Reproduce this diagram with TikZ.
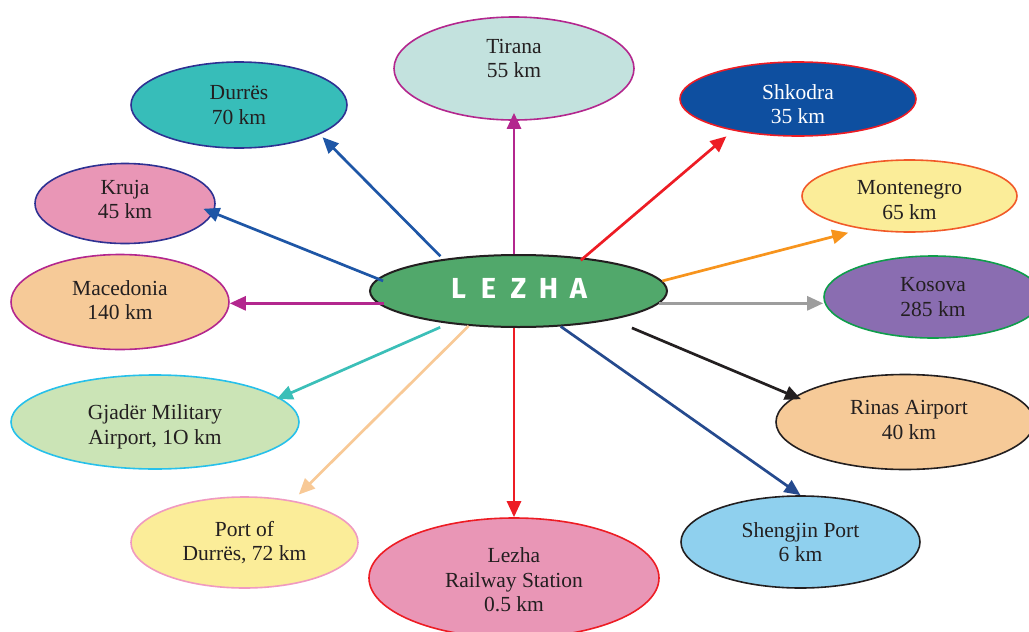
\documentclass[tikz,border=0pt]{standalone}
\usepackage{fontspec}
\setmainfont{Liberation Serif}
\newfontfamily\lezfont{Fira Sans}
\usetikzlibrary{shapes.geometric,arrows.meta}
\definecolor{txt}{HTML}{231F20}
\definecolor{magen}{HTML}{B3278E}
\definecolor{dblue}{HTML}{2E3192}
\definecolor{redc}{HTML}{ED1C24}
\definecolor{fTir}{HTML}{C3E2DE}
\definecolor{fDur}{HTML}{37BDB9}
\definecolor{fShk}{HTML}{0E4FA0}
\definecolor{fYel}{HTML}{FBED99}
\definecolor{bMon}{HTML}{F15A29}
\definecolor{fPink}{HTML}{E996B6}
\definecolor{fPeach}{HTML}{F6CA98}
\definecolor{fKos}{HTML}{8A6DB1}
\definecolor{bKos}{HTML}{0F9D4B}
\definecolor{fGja}{HTML}{CBE4B6}
\definecolor{bGja}{HTML}{27C0EA}
\definecolor{bPor}{HTML}{F09AC0}
\definecolor{fShe}{HTML}{8FD0EE}
\definecolor{fLez}{HTML}{51A86B}
\definecolor{aBlue}{HTML}{1E56A6}
\definecolor{aOrange}{HTML}{F7941D}
\definecolor{aGray}{HTML}{9D9D9D}
\definecolor{aNavy}{HTML}{254A8E}
\definecolor{aPeach}{HTML}{F8C996}
\definecolor{aTeal}{HTML}{3BBFB8}
\tikzset{
  place/.style={ellipse, draw, line width=1.6pt, inner sep=0pt},
  lab/.style={align=center, inner sep=0pt, text=txt,
    font=\fontsize{21.5}{24.5}\selectfont},
  arr/.style={line width=2.7pt, -{Triangle[length=16pt,width=14pt]}}
}
\begin{document}
\begin{tikzpicture}[x=1pt,y=-1pt]
\useasboundingbox (0,0) rectangle (1029,632);
% destination ellipses
\node[place, fill=fTir, draw=magen, minimum width=240pt, minimum height=103pt,
  label={[lab, yshift=10pt]center:{Tirana\\55 km}}] (tir) at (514,68.5) {};
\node[place, fill=fDur, draw=dblue, minimum width=216pt, minimum height=86pt,
  label={[lab]center:{Durrës\\70 km}}] (dur) at (239,105) {};
\node[place, fill=fShk, draw=redc, minimum width=236pt, minimum height=74pt,
  label={[lab, text=white, yshift=-5pt]center:{Shkodra\\35 km}}] (shk) at (798,99) {};
\node[place, fill=fYel, draw=bMon, minimum width=215pt, minimum height=72pt,
  label={[lab, yshift=-4pt]center:{Montenegro\\65 km}}] (mon) at (909.5,196) {};
\node[place, fill=fPink, draw=dblue, minimum width=180pt, minimum height=80pt,
  label={[lab, yshift=4pt]center:{Kruja\\45 km}}] (kru) at (125,203.5) {};
\node[place, fill=fPeach, draw=magen, minimum width=218pt, minimum height=95pt,
  label={[lab, yshift=2pt]center:{Macedonia\\140 km}}] (mac) at (120,302) {};
\node[place, fill=fKos, draw=bKos, minimum width=218pt, minimum height=82pt,
  label={[lab]center:{Kosova\\285 km}}] (kos) at (933,297) {};
\node[place, fill=fGja, draw=bGja, minimum width=288pt, minimum height=94pt,
  label={[lab, yshift=-5pt]center:{Gjadër Military\\Airport, 1O km}}] (gja) at (155,422) {};
\node[place, fill=fPeach, draw=txt, minimum width=258pt, minimum height=95pt,
  label={[lab, xshift=4pt, yshift=2pt]center:{Rinas Airport\\40 km}}] (rin) at (905,422) {};
\node[place, fill=fYel, draw=bPor, minimum width=227pt, minimum height=91pt,
  label={[lab]center:{Port of\\Durrës, 72 km}}] (por) at (244.5,542.5) {};
\node[place, fill=fPink, draw=redc, minimum width=290pt, minimum height=120pt,
  label={[lab, yshift=-2pt]center:{Lezha\\Railway Station\\0.5 km}}] (rail) at (514,578) {};
\node[place, fill=fShe, draw=txt, minimum width=239pt, minimum height=92pt,
  label={[lab]center:{Shengjin Port\\6 km}}] (she) at (800.5,542) {};
% centre
\node[ellipse, draw=txt, line width=2pt, fill=fLez, inner sep=0pt, minimum width=297pt, minimum height=72pt,
  label={[text=white, inner sep=0pt, yshift=2.5pt, font=\lezfont\bfseries\fontsize{29}{32}\selectfont]center:{\makebox[30pt]{L}\makebox[30pt]{E}\makebox[30pt]{Z}\makebox[30pt]{H}\makebox[30pt]{A}}}] (lez) at (518.5,291) {};
% connectors
\draw[arr, color=magen, shorten >=-8pt] (lez.north -| tir.south) -- (tir.south);
\draw[arr, color=aBlue, shorten <=4pt, shorten >=4pt] (lez.157) -- (dur.340.8);
\draw[arr, color=redc, shorten <=-4pt, shorten >=8.8pt] (lez.27.1) -- (shk.206.7);
\draw[arr, color=aOrange, shorten >=14.5pt] (lez.4.5) -- (mon.215);
\draw[arr, color=aGray] (lez.355) -- (lez.355 -| kos.west);
\draw[arr, color=txt, shorten <=21pt, shorten >=-6.8pt] (lez.343.8) -- (rin.167.4);
\draw[arr, color=aNavy] (lez.320.4) -- (she.north);
\draw[arr, color=redc] (lez.south -| rail.north) -- (rail.north);
\draw[arr, color=aPeach, shorten >=8.5pt] (lez.215) -- (por.41.1);
\draw[arr, color=aTeal, shorten <=9pt, shorten >=-3.3pt] (lez.205.8) -- (gja.11.2);
\draw[arr, color=magen, shorten <=-6pt] (lez.185) -- (lez.185 -| mac.east);
\draw[arr, color=aBlue, shorten <=-6pt, shorten >=-10.8pt] (lez.175.7) -- (kru.354.3);
\end{tikzpicture}
\end{document}
